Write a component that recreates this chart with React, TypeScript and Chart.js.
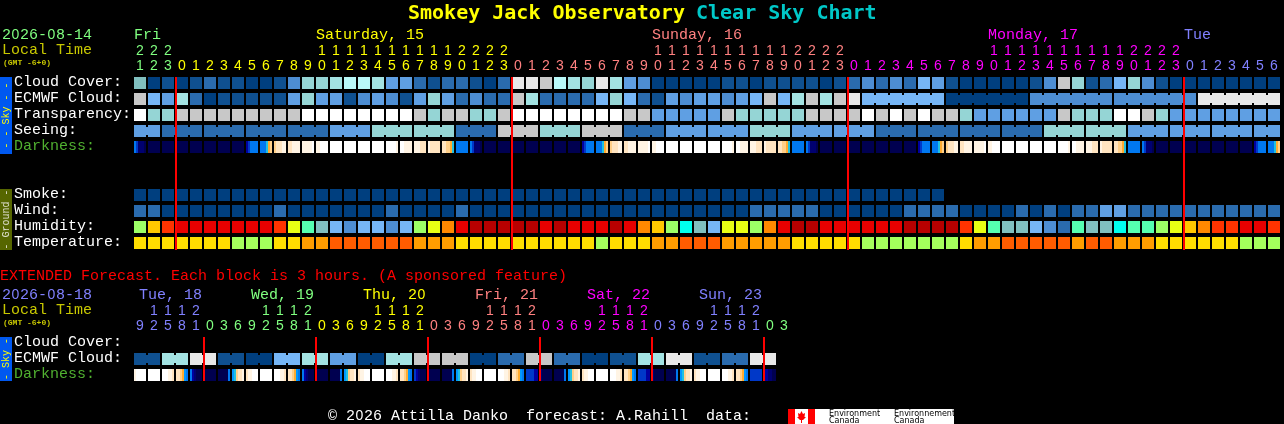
import React, { useEffect, useRef } from "react";
import { Chart, registerables } from "chart.js";

Chart.register(...registerables);

// ---------- data (levels) ----------
const cloudCover = [6,0,1,0,1,2,1,1,0,0,1,3,7,7,8,9,9,8,4,4,2,1,2,2,1,0,2,11,11,10,9,8,7,11,8,4,3,0,0,0,0,0,1,1,0,1,1,1,1,0,1,2,3,2,3,2,5,4,1,0,0,0,0,0,1,3,10,7,1,2,5,7,3,1,0,0,0,0,0,0,0,0];
const ecmwfHourly = [10,5,4,8,2,0,1,1,1,1,1,4,7,4,4,1,3,4,3,1,4,7,4,2,3,2,2,10,8,2,2,2,2,5,7,5,2,1,4,3,4,4,3,4,5,10,5,8,10,8,10,11];
const ecmwfSixHourly = [5,0,3,3,11];
const transparency = [12,7,7,10,10,10,10,10,10,10,10,10,12,12,12,12,12,12,12,12,10,7,10,10,7,7,10,12,12,12,12,12,12,12,12,10,10,4,4,4,4,4,10,7,7,7,7,7,10,10,10,10,12,10,12,10,12,10,10,7,4,4,4,4,4,4,10,7,7,7,12,12,10,7,4,4,4,4,4,4,4,4];
const seeingThreeHourly = [4,2,2,2,2,4,7,7,2,10,7,10,2,4,4,7,4,4,2,2,2,2,7,7,4,4,4,4];
const seeingSpans = [2,3,3,3,3,3,3,3,3,3,3,3,3,3,3,3,3,3,3,3,3,3,3,3,3,3,3,2];
const darknessMain = ["78aaab","bbbbbb","bbbbbb","bbbbbb","bbbbbb","bbbbbb","bbbbbb","bbbbbb","987777","777543","322211","221111","111110","110000","000000","000000","000000","000000","000001","001111","111222","122222","223345","777777","78aaab","bbbbbb","bbbbbb","bbbbbb","bbbbbb","bbbbbb","bbbbbb","bbbbbb","987777","777543","322211","221111","111110","110000","000000","000000","000000","000000","000001","001111","111222","122222","223345","777777","78aaab","bbbbbb","bbbbbb","bbbbbb","bbbbbb","bbbbbb","bbbbbb","bbbbbb","987777","777543","322211","221111","111110","110000","000000","000000","000000","000000","000001","001111","111222","122222","223345","777777","78aaab","bbbbbb","bbbbbb","bbbbbb","bbbbbb","bbbbbb","bbbbbb","bbbbbb","987777","777543"];
const smoke = [0,0,0,0,0,0,0,0,0,0,0,0,0,0,0,0,0,0,0,0,0,0,0,0,0,0,0,0,0,0,0,0,0,0,0,0,0,0,0,0,0,0,0,0,0,0,0,0,0,0,0,0,0,0,0,0,0,0];
const wind = [2,2,0,0,0,0,0,0,0,0,2,0,0,0,0,0,0,0,2,0,0,0,0,2,0,0,0,0,0,0,0,0,0,0,0,0,0,0,0,0,0,0,0,0,2,2,2,2,2,0,0,0,0,0,0,2,2,2,2,0,0,0,0,2,0,2,0,2,2,4,4,2,2,2,2,2,2,2,2,2,2,2];
const humidity = [6,4,2,1,1,1,1,1,1,1,2,5,7,9,10,11,10,10,11,10,6,5,3,1,0,0,0,0,0,1,0,1,1,1,0,1,3,4,6,8,9,10,5,5,6,3,1,0,0,1,1,1,1,1,1,0,0,0,0,2,5,7,9,9,10,11,12,7,9,9,8,7,7,6,5,4,3,2,2,1,1,2];
const temperature = [0,0,0,0,0,0,0,1,1,1,0,0,2,2,3,3,3,3,3,3,2,2,2,0,0,0,0,0,0,0,0,0,0,1,0,0,0,2,2,3,3,3,2,2,2,2,2,0,0,0,0,0,1,1,1,1,1,1,1,0,2,2,3,3,3,3,3,2,3,3,2,2,2,0,0,0,0,0,0,1,1,1];
const extendedEcmwf = [1,8,11,1,0,5,8,4,0,8,10,10,0,2,10,2,0,1,8,11,1,2,11];
const darknessExtended = ["100000","000000","000112","223467","79abbb","bbbbbb","bbbbb7","653221","211000","000000","000112","223467","79abbb","bbbbbb","bbbbb7","653221","211000","000000","000112","223467","89abbb","bbbbbb","bbbbb7","653221","211000","000000","000112","223467","888899","abbbbb","bbbbb7","653221","211000","000000","000112","223467","888899","abbbbb","bbbbb7","653221","211000","000000","000112","223467","888888","99aabb"];

const mainHours = [21,22,23,0,1,2,3,4,5,6,7,8,9,10,11,12,13,14,15,16,17,18,19,20,21,22,23,0,1,2,3,4,5,6,7,8,9,10,11,12,13,14,15,16,17,18,19,20,21,22,23,0,1,2,3,4,5,6,7,8,9,10,11,12,13,14,15,16,17,18,19,20,21,22,23,0,1,2,3,4,5,6];
const extendedHours = [9,12,15,18,21,0,3,6,9,12,15,18,21,0,3,6,9,12,15,18,21,0,3,6,9,12,15,18,21,0,3,6,9,12,15,18,21,0,3,6,9,12,15,18,21,0,3];
const mainDayNames = ["Fri","Saturday, 15","Sunday, 16","Monday, 17","Tue"];
const mainDayStarts = [0,13,37,61,75];
const mainMidnights = [3,27,51,75];
const extendedDayNames = ["Tue, 18","Wed, 19","Thu, 20","Fri, 21","Sat, 22","Sun, 23"];
const extendedDayStarts = [0,8,16,24,32,40];
const extendedMidnights = [5,13,21,29,37,45];
const mainRowLabels = ["Cloud Cover:","ECMWF Cloud:","Transparency:","Seeing:","Darkness:"];
const groundRowLabels = ["Smoke:","Wind:","Humidity:","Temperature:"];
const extendedRowLabels = ["Cloud Cover:","ECMWF Cloud:","Darkness:"];

// ---------- styles ----------
const cloudColors = ["#003f7f","#0f5090","#2a6bae","#4d8dd2","#5f9fe3","#76b6f6","#80bfbf","#95d5d5","#a3e3e3","#b9f9f9","#c8c8c8","#e8e8e8","#ffffff"];
const humidityColors = ["#b80000","#e80000","#ff3300","#ff8800","#ffc800","#e8ff14","#9cff66","#55ffb0","#00ffee","#80bfbf","#76b6f6","#4d8dd2","#2a6bae"];
const temperatureColors = ["#ffdd00","#a4ff5c","#ff9d00","#ff5c00"];
const darkColors = ["#ffffff","#fff4e4","#ffe4c0","#ffcf88","#ffac30","#20c0e0","#0098ff","#0078f0","#0038c8","#0000a0","#000070","#000050"];
const dayColors = ["#80ff80","#ffff00","#ff8080","#ff00ff","#8080ff"];
const extendedDayColors = ["#8080ff","#80ff80","#ffff00","#ff8080","#ff00ff","#8080ff","#80ff80"];
const FONT = '"Liberation Mono", monospace';

const COLUMN_ZERO = 140, PITCH = 14;
const rowTops = [77,93,109,125,141];
const groundTops = [189,205,221,237];
const extendedTops = [337,353,369];

type Bar = { x: number; y: [number, number] };
const cells = (values: number[], colors: string[], top: number, label: string) => ({
  label,
  barThickness: 12,
  backgroundColor: values.map((v) => colors[v]),
  data: values.map((_, i): Bar => ({ x: i, y: [top, top + 12] })),
});
const expand = (values: number[], spans: number[]) => values.flatMap((v, i) => Array(spans[i]).fill(v));
const links = (values: number[], spans: number[], start: number, colors: string[], top: number, label: string) => {
  const data: Bar[] = [];
  const backgroundColor: string[] = [];
  let col = start;
  values.forEach((v, i) => {
    for (let k = 0; k < spans[i] - 1; k++) {
      data.push({ x: col + k + 0.5, y: [top + 2, top + 10] });
      backgroundColor.push(colors[v]);
    }
    col += spans[i];
  });
  return { label, barThickness: 2, backgroundColor, data };
};
const shaded = (rows: string[], top: number, label: string) => {
  const data: Bar[] = [];
  const backgroundColor: string[] = [];
  rows.forEach((r, i) => {
    [...r].forEach((c, k) => {
      data.push({ x: i + (k - 2.5) / 7, y: [top, top + 12] });
      backgroundColor.push(darkColors[parseInt(c, 16)]);
    });
  });
  return { label, barThickness: 2, backgroundColor, data };
};
const redLines = (cols: number[], top: number, bottom: number, label: string) => ({
  label,
  barThickness: 2,
  backgroundColor: "#ff0000",
  data: cols.map((c): Bar => ({ x: c - 0.5 + 1 / 14, y: [top, bottom] })),
});

const textPlugin = {
  id: "csc-text",
  afterDraw(chart: any) {
    const { ctx, scales } = chart;
    const X = (col: number) => scales.x.getPixelForValue(col);
    const text = (s: string, x: number, y: number, color: string, font = `15px ${FONT}`, align: CanvasTextAlign = "left") => {
      ctx.font = font;
      ctx.fillStyle = color;
      ctx.textAlign = align;
      ctx.textBaseline = "alphabetic";
      ctx.fillText(s, x, y);
    };
    // monospaced line; the zero is plain in the reference, so it takes the sans glyph
    const mono = (s: string, x: number, y: number, color: string) => {
      [...s].forEach((ch, i) => {
        if (ch === "0") text(ch, x + 9 * i + 4.5, y, color, `14px "Liberation Sans"`, "center");
        else text(ch, x + 9 * i, y, color);
      });
    };
    const band = (top: number, bottom: number, fill: string, color: string, s: string) => {
      ctx.fillStyle = fill;
      ctx.fillRect(0, top, 12, bottom - top);
      ctx.save();
      ctx.translate(9, (top + bottom) / 2);
      ctx.rotate(-Math.PI / 2);
      text(s, 0, 0, color, `10px ${FONT}`, "center");
      ctx.restore();
    };
    const hours = (list: number[], colorAt: (i: number) => string, tensY: number, unitsY: number) => {
      list.forEach((h, i) => {
        if (h >= 10) text(String(Math.floor(h / 10)), X(i), tensY, colorAt(i), `14px "Liberation Sans"`, "center");
        text(String(h % 10), X(i), unitsY, colorAt(i), `14px "Liberation Sans"`, "center");
      });
    };

    ctx.save();
    // title
    const bold = `bold 20px "DejaVu Sans Mono"`;
    text("Smokey Jack Observatory", 408, 19, "#ffff00", bold);
    text("Clear Sky Chart", 696, 19, "#00c8c8", bold);

    // main header
    mono("2026-08-14", 2, 39, "#80ff80");
    text("Local Time", 2, 54, "#c8c800");
    text("(GMT -6+0)", 3, 65, "#c8c800", `bold 8px ${FONT}`);
    mainDayNames.forEach((d, i) => mono(d, X(mainDayStarts[i]) - 6, 39, dayColors[i]));
    const mainDayOf = (i: number) => {
      let d = 0;
      mainMidnights.forEach((m, k) => { if (i >= m) d = k + 1; });
      return dayColors[d];
    };
    hours(mainHours, mainDayOf, 55, 70);

    band(77, 154, "#0058f0", "#ffff00", "- - Sky - -");
    band(189, 250, "#566600", "#e0e0d0", "- Ground -");
    mainRowLabels.forEach((s, i) => text(s, 14, rowTops[i] + 9, s === "Darkness:" ? "#50b030" : "#ffffff"));
    groundRowLabels.forEach((s, i) => text(s, 14, groundTops[i] + 9, "#ffffff"));

    // extended header
    text("EXTENDED Forecast. Each block is 3 hours. (A sponsored feature)", 0, 280, "#ff0000");
    mono("2026-08-18", 2, 299, "#8080ff");
    text("Local Time", 2, 314, "#c8c800");
    text("(GMT -6+0)", 3, 325, "#c8c800", `bold 8px ${FONT}`);
    extendedDayNames.forEach((d, i) => mono(d, X(extendedDayStarts[i]) - 1, 299, extendedDayColors[i]));
    const extDayOf = (i: number) => {
      let d = 0;
      extendedMidnights.forEach((m, k) => { if (i >= m) d = k + 1; });
      return extendedDayColors[d];
    };
    hours(extendedHours, extDayOf, 315, 330);
    band(337, 381, "#0058f0", "#ffff00", "- Sky -");
    extendedRowLabels.forEach((s, i) => text(s, 14, extendedTops[i] + 9, s === "Darkness:" ? "#50b030" : "#ffffff"));

    // credit line and sponsor logo
    mono("\u00a9 2026 Attilla Danko  forecast: A.Rahill  data:", 328, 420, "#ffffff");
    ctx.fillStyle = "#ffffff";
    ctx.fillRect(788, 409, 166, 15);
    ctx.fillStyle = "#ff0000";
    ctx.fillRect(788, 409, 7, 15);
    ctx.fillRect(808, 409, 7, 15);
    ctx.beginPath();
    [[801.5,411],[803,414],[805,413],[804.5,417],[806,417],[803,420],[802,420],[802,423],[801,423],[801,420],[800,420],[797,417],[798.5,417],[798,413],[800,414]]
      .forEach(([px, py], i) => (i ? ctx.lineTo(px, py) : ctx.moveTo(px, py)));
    ctx.closePath();
    ctx.fill();
    const logo = `8px "DejaVu Sans"`;
    text("Environment", 829, 416, "#000000", logo);
    text("Canada", 829, 423, "#000000", logo);
    text("Environnement", 894, 416, "#000000", logo);
    text("Canada", 894, 423, "#000000", logo);
    ctx.restore();
  },
};

export default function App() {
  const ref = useRef<HTMLCanvasElement>(null);
  useEffect(() => {
    document.body.style.margin = "0";
    document.body.style.background = "#000";
    const ecmwf = expand(ecmwfSixHourly, [6,6,6,6,6]);
    const chart = new Chart(ref.current!, {
      type: "bar",
      data: {
        datasets: [
          redLines(mainMidnights, 77, 250, "Midnight"),
          redLines(extendedMidnights, 337, 381, "Extended midnight"),
          cells(cloudCover, cloudColors, rowTops[0], "Cloud Cover"),
          cells([...ecmwfHourly, ...ecmwf], cloudColors, rowTops[1], "ECMWF Cloud"),
          links(ecmwfSixHourly, [6,6,6,6,6], 52, cloudColors, rowTops[1], "ECMWF Cloud runs"),
          cells(transparency, cloudColors, rowTops[2], "Transparency"),
          cells(expand(seeingThreeHourly, seeingSpans), cloudColors, rowTops[3], "Seeing"),
          links(seeingThreeHourly, seeingSpans, 0, cloudColors, rowTops[3], "Seeing runs"),
          shaded(darknessMain, rowTops[4], "Darkness"),
          cells(smoke, cloudColors, groundTops[0], "Smoke"),
          cells(wind, cloudColors, groundTops[1], "Wind"),
          cells(humidity, humidityColors, groundTops[2], "Humidity"),
          cells(temperature, temperatureColors, groundTops[3], "Temperature"),
          cells(expand(extendedEcmwf, extendedEcmwf.map(() => 2)), cloudColors, extendedTops[1], "Extended ECMWF"),
          links(extendedEcmwf, extendedEcmwf.map(() => 2), 0, cloudColors, extendedTops[1], "Extended ECMWF runs"),
          shaded(darknessExtended, extendedTops[2], "Extended Darkness"),
        ] as any,
      },
      options: {
        animation: false,
        responsive: false,
        devicePixelRatio: 1,
        layout: { padding: 0 },
        datasets: { bar: { grouped: false, borderWidth: 0, inflateAmount: 0, borderSkipped: false } },
        scales: {
          x: { type: "linear", display: false, offset: false, min: -COLUMN_ZERO / PITCH, max: (1284 - COLUMN_ZERO) / PITCH },
          y: { type: "linear", display: false, reverse: true, min: 0, max: 424 },
        },
        plugins: { legend: { display: false }, title: { display: false }, tooltip: { enabled: false } },
      } as any,
      plugins: [textPlugin],
    });
    return () => chart.destroy();
  }, []);
  return <canvas ref={ref} width={1284} height={424} style={{ display: "block", background: "#000", width: 1284, height: 424 }} />;
}
